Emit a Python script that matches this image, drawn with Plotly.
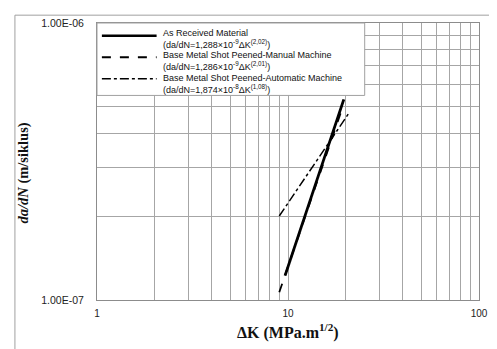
import plotly.graph_objects as go

# Data (endpoints of each fitted line, log-log)
dk_received = [9.65, 19.6]
dadn_received = [1.225e-7, 5.30e-7]

dk_manual = [9.0, 19.0]
dadn_manual = [1.067e-7, 4.80e-7]

dk_auto = [9.0, 20.8]
dadn_auto = [2.01e-7, 4.72e-7]

x_ticks = [1, 10, 100]
x_ticklabels = ["1", "10", "100"]
y_ticks = [1e-7, 1e-6]
y_ticklabels = ["1.00E-07", "1.00E-06"]

legend_names = [
    "As Received Material",
    "Base Metal Shot Peened-Manual Machine",
    "Base Metal Shot Peened-Automatic Machine",
]
legend_formulas = [
    "(da/dN=1,288×10<sup>-9</sup>ΔK<sup>(2,02)</sup>)",
    "(da/dN=1,286×10<sup>-9</sup>ΔK<sup>(2,01)</sup>)",
    "(da/dN=1,874×10<sup>-8</sup>ΔK<sup>(1,08)</sup>)",
]

# page body has an 8px margin; lay out the figure in window pixel terms
OFF = 8
WIN_W, WIN_H = 497, 349
W, H = WIN_W - OFF, WIN_H - OFF
L, R, T, B = 97, 488, 17, 300  # plot area in window pixels


def px(x):
    return (x - L) / (R - L)


def py(y):
    return (B - y) / (B - T)


fig = go.Figure()
fig.add_trace(go.Scatter(x=dk_received, y=dadn_received, mode="lines",
                         line=dict(color="black", width=2.8), showlegend=False))
fig.add_trace(go.Scatter(x=dk_manual, y=dadn_manual, mode="lines",
                         line=dict(color="black", width=1.8, dash="dash"), showlegend=False))
fig.add_trace(go.Scatter(x=dk_auto, y=dadn_auto, mode="lines",
                         line=dict(color="black", width=1.5, dash="dashdot"), showlegend=False))

grid = "#a6a6a6"
minor_x = [2, 3, 4, 5, 6, 7, 8, 9, 20, 30, 40, 50, 60, 70, 80, 90]
minor_y = [k * 1e-7 for k in range(2, 10)]

fig.update_xaxes(type="log", range=[0, 2], tickvals=x_ticks, ticktext=x_ticklabels,
                 showgrid=True, gridcolor=grid, gridwidth=1,
                 minor=dict(tickvals=minor_x, showgrid=True, gridcolor=grid, gridwidth=1, ticks=""),
                 showline=True, linecolor="#8c8c8c", linewidth=1, mirror=True,
                 ticks="", zeroline=False, ticklabeloverflow="allow", ticklabelstandoff=4,
                 tickfont=dict(family="Arial", size=10, color="#222"))
fig.update_yaxes(type="log", range=[-7, -6], tickvals=y_ticks, ticktext=y_ticklabels,
                 showgrid=True, gridcolor=grid, gridwidth=1,
                 minor=dict(tickvals=minor_y, showgrid=True, gridcolor=grid, gridwidth=1, ticks=""),
                 showline=True, linecolor="#8c8c8c", linewidth=1, mirror=True,
                 ticks="", zeroline=False, ticklabelstandoff=10, ticklabeloverflow="allow",
                 tickfont=dict(family="Arial", size=10.5, color="#222"))

shapes = []
# outer chart frame
shapes.append(dict(type="rect", xref="paper", yref="paper",
                   x0=px(13), x1=px(520), y0=py(380), y1=py(9),
                   line=dict(color="#a0a0a0", width=1), fillcolor="rgba(0,0,0,0)", layer="below"))
# legend box
shapes.append(dict(type="rect", xref="paper", yref="paper",
                   x0=px(97), x1=px(371), y0=py(91), y1=py(17),
                   line=dict(color="#a0a0a0", width=1), fillcolor="white", layer="above"))
sample_styles = [dict(width=2.6, dash="solid"), dict(width=1.8, dash="dash"),
                 dict(width=1.5, dash="dashdot")]
sample_y = [30, 52, 74]
for st, yy in zip(sample_styles, sample_y):
    shapes.append(dict(type="line", xref="paper", yref="paper",
                       x0=px(102), x1=px(158), y0=py(yy), y1=py(yy),
                       line=dict(color="black", **st), layer="above"))

annotations = []
entry_y = [33, 56, 79]
for n, f, ey in zip(legend_names, legend_formulas, entry_y):
    annotations.append(dict(text=n + "<br>" + f, xref="paper", yref="paper", x=px(163), y=py(ey),
                            xanchor="left", yanchor="middle", align="left", showarrow=False,
                            font=dict(family="Arial", size=9, color="#111")))

annotations.append(dict(text="<b>ΔK (MPa.m<sup>1/2</sup>)</b>", xref="paper", yref="paper",
                        x=px(293), y=py(332), xanchor="center", yanchor="middle", showarrow=False,
                        font=dict(family="Liberation Serif", size=16, color="#111")))
annotations.append(dict(text="<b><i>da/dN</i> (m/siklus)</b>", xref="paper", yref="paper",
                        x=px(22), y=py(170), xanchor="center", yanchor="middle", showarrow=False,
                        textangle=-90,
                        font=dict(family="Liberation Serif", size=14.5, color="#111")))

fig.update_layout(width=W, height=H,
                  margin=dict(l=L - OFF, r=WIN_W - R, t=T - OFF, b=WIN_H - B),
                  paper_bgcolor="white", plot_bgcolor="white",
                  shapes=shapes, annotations=annotations, showlegend=False)

fig.write_html("out.html")
